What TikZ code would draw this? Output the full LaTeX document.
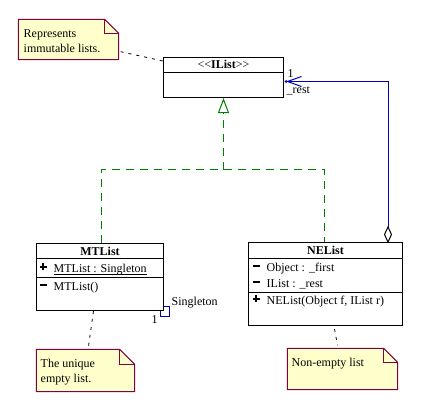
\documentclass[tikz,border=0pt]{standalone}
\usepackage{fontspec}
\setmainfont{Liberation Serif}
\usetikzlibrary{arrows.meta,calc}
\definecolor{notefill}{HTML}{FFFFCC}
\definecolor{noteline}{HTML}{800040}
\definecolor{umlgreen}{HTML}{008000}
\definecolor{umlblue}{HTML}{0000B8}
\newcommand{\umlplus}{\rlap{\rule[5pt]{7pt}{2pt}}\hspace{2.5pt}\rule[2.5pt]{2pt}{7pt}\hspace{2.5pt}}
\newcommand{\umlminus}{\rule[5pt]{7pt}{2pt}}
\begin{document}
\begin{tikzpicture}[x=1pt,y=-1pt,
  font=\fontsize{12}{14}\selectfont,
  box/.style={draw=black, line width=1pt, fill=white, inner sep=0pt},
  divider/.style={draw=black, line width=1pt},
  txt/.style={anchor=base west, inner sep=0pt},
  ttl/.style={anchor=base, inner sep=0pt, font=\fontsize{12}{14}\selectfont\bfseries},
  notearea/.style={inner sep=0pt},
  noteshape/.style={draw=noteline, fill=notefill, line width=1pt},
  notefold/.style={draw=noteline, line width=1pt},
  notedash/.style={draw=black, line width=0.8pt, dash pattern=on 3pt off 5pt},
  gen/.style={draw=umlgreen, line width=1pt, dash pattern=on 8pt off 6pt},
  assoc/.style={draw=umlblue, line width=1pt}]
\useasboundingbox (0,0) rectangle (425,410);
\fill[white] (0,0) rectangle (425,410);
\begin{scope}[shift={(0.5,0.5)}]

% ---- IList ----
\node[box, minimum width=120pt, minimum height=40pt] (ilist) at (223,77) {};
\draw[divider] ($(ilist.north west)+(0,15)$) -- ($(ilist.north east)+(0,15)$);
\node[anchor=base, inner sep=0pt] (iltitle) at (223,68) {<\kern0pt<\textbf{IList}>\kern0pt>};

% ---- MTList ----
\node[box, minimum width=127pt, minimum height=67pt] (mt) at (99.5,276.5) {};
\draw[divider] ($(mt.north west)+(0,15)$) -- ($(mt.north east)+(0,15)$);
\draw[divider] ($(mt.north west)+(0,34)$) -- ($(mt.north east)+(0,34)$);
\node[ttl] (mttitle) at (99.5,255) {MTList};
\node[txt] (mtpl) at (39,272) {\umlplus};
\node[txt] (mtattr) at (53,272) {MTList : Singleton};
\draw[line width=1pt] ($(mtattr.base west)+(0,2)$) -- ($(mtattr.base east)+(0,2)$);
\node[txt] (mtmi) at (39,290) {\umlminus};
\node[txt] (mtop) at (53,290) {MTList()};

% ---- NEList ----
\node[box, minimum width=154pt, minimum height=83pt] (ne) at (325,283.5) {};
\draw[divider] ($(ne.north west)+(0,16)$) -- ($(ne.north east)+(0,16)$);
\draw[divider] ($(ne.north west)+(0,50)$) -- ($(ne.north east)+(0,50)$);
\node[ttl] (netitle) at (325,254) {NEList};
\node[txt] (nemi1) at (252,271) {\umlminus};
\node[txt] (neattr1) at (266,271) {Object : \_first};
\node[txt] (nemi2) at (252,287) {\umlminus};
\node[txt] (neattr2) at (266,287) {IList : \_rest};
\node[txt] (nepl) at (252,304) {\umlplus};
\node[txt] (neop) at (266,304) {NEList(Object f, IList r)};

% ---- Notes ----
\node[notearea, minimum width=100pt, minimum height=40pt] (note1) at (68,39) {};
\path[noteshape] (note1.north west) -- ($(note1.north east)+(-14,0)$) -- ($(note1.north east)+(0,14)$) -- (note1.south east) -- (note1.south west) -- cycle;
\path[notefold] ($(note1.north east)+(-14,0)$) -- ($(note1.north east)+(-14,14)$) -- ($(note1.north east)+(0,14)$);
\node[txt] (n1a) at (23,37) {Represents};
\node[txt] (n1b) at (23,52) {immutable lists.};

\node[notearea, minimum width=98pt, minimum height=42pt] (note2) at (85,370) {};
\path[noteshape] (note2.north west) -- ($(note2.north east)+(-15,0)$) -- ($(note2.north east)+(0,15)$) -- (note2.south east) -- (note2.south west) -- cycle;
\path[notefold] ($(note2.north east)+(-15,0)$) -- ($(note2.north east)+(-15,15)$) -- ($(note2.north east)+(0,15)$);
\node[txt] (n2a) at (40,367) {The unique};
\node[txt] (n2b) at (40,382) {empty list.};

\node[notearea, minimum width=110pt, minimum height=41pt] (note3) at (342,368.5) {};
\path[noteshape] (note3.north west) -- ($(note3.north east)+(-14,0)$) -- ($(note3.north east)+(0,14)$) -- (note3.south east) -- (note3.south west) -- cycle;
\path[notefold] ($(note3.north east)+(-14,0)$) -- ($(note3.north east)+(-14,14)$) -- ($(note3.north east)+(0,14)$);
\node[txt] (n3a) at (291,366) {Non-empty list};

% ---- Note connectors ----
\draw[notedash] ($(note1.south east)+(2,-8)$) -- ($(ilist.north west)+(0,4)$);
\draw[notedash] ($(mt.south)+(-6.5,0)$) -- ($(note2.north)+(3,-3)$);
\draw[notedash] ($(ne.south)+(9,3)$) -- ($(note3.north)+(-5,-3)$);

% ---- Generalization ----
\coordinate (jn) at (223,169);
\draw[gen] ($(mt.north)+(1.5,0)$) |- (jn) -| ($(ne.north)+(-1,0)$);
\draw[gen, -{Triangle[open, length=15pt, width=11pt, fill=white]}] (jn) -- (ilist.south);

% ---- Association NEList -> IList ----
\coordinate (diabot) at ($(ne.north east)+(-15,0)$);
\coordinate (diatop) at ($(diabot)+(0,-15)$);
\coordinate (ilend) at ($(ilist.east)+(2,4)$);
\draw[assoc, -{Straight Barb[length=14pt, width=10pt]}] (diatop) |- (ilend);
\draw[black, line width=1pt, fill=white] (diabot) -- ++(3.5,-7.5) -- (diatop) -- ++(-3.5,7.5) -- cycle;
\fill[umlblue] (ilend) circle (1.5pt);
\node[txt] (r1) at (287,77) {1};
\node[txt] (rrest) at (286,93) {\_rest};

% ---- Singleton self association ----
\draw[assoc] ($(mt.south east)+(0,-5)$) -- ++(5,0) -- ++(0,10) -- ++(-9,0) -- ++(0,-5);
\node[txt] (sgl) at (171,305) {Singleton};
\node[txt] (sg1) at (151,323) {1};
\end{scope}
\end{tikzpicture}
\end{document}
